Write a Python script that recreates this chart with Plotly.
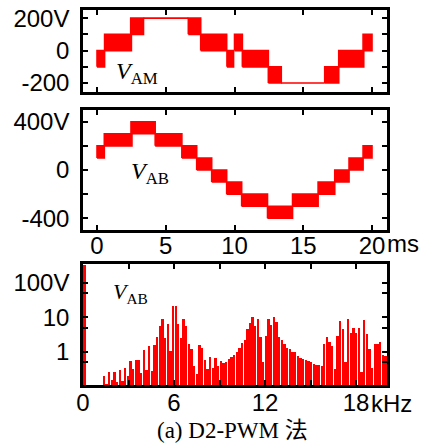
import plotly.graph_objects as go

W, H = 426, 445

# ---- v_AM : PWM blocks (start ms, end ms, low level V, high level V) ----
vam_t0 = [0.0, 0.55, 2.45, 3.38, 6.64, 7.54, 9.45, 10.0, 10.57, 12.46, 13.40, 16.56, 17.58, 19.35]
vam_t1 = [0.55, 2.50, 3.38, 6.64, 7.54, 9.43, 9.93, 10.57, 12.46, 13.40, 16.56, 17.58, 19.40, 20.0]
vam_lo = [-100, 0, 100, 200, 100, 0, -100, 0, -100, -200, -200, -200, -100, 0]
vam_hi = [0, 100, 200, 200, 200, 100, 0, 100, 0, -100, -200, -100, 0, 100]

# ---- v_AB : PWM blocks ----
vab_t0 = [0.0, 0.53, 2.47, 4.23, 6.17, 7.25, 8.34, 9.43, 10.52, 12.40, 14.22, 16.08, 17.29, 18.33, 19.35]
vab_t1 = [0.53, 2.54, 4.23, 6.17, 7.25, 8.34, 9.43, 10.52, 12.40, 14.22, 16.08, 17.29, 18.33, 19.35, 20.0]
vab_lo = [100, 200, 300, 200, 100, 0, -100, -200, -300, -400, -300, -200, -100, 0, 100]
vab_hi = [200, 300, 400, 300, 200, 100, 0, -100, -200, -300, -200, -100, 0, 100, 200]

# ---- v_AB spectrum ----
fund_khz = 0.11
fund_amp = 340.0
spec_f0 = 1.4        # first sideband bin, kHz
spec_step = 0.175    # bin spacing, kHz
spec_amp = [
    0.2, 0.12, 0.26, 0.15, 0.27, 0.13, 0.3, 0.14, 0.34, 0.2,
    0.55, 0.32, 0.6, 0.58, 0.25, 1.1, 0.3, 1.5, 0.28, 1.6,
    2.7, 5.6, 8.9, 2.5, 6.6, 1.05, 21.0, 21.0, 6.6, 2.5,
    8.9, 5.7, 1.7, 1.25, 0.39, 0.23, 1.6, 1.3, 0.6, 0.31,
    0.72, 0.34, 0.66, 0.39, 0.54, 0.47, 0.52, 0.61, 0.7, 0.82,
    1.0, 1.3, 1.8, 2.2, 4.5, 6.8, 10.5, 5.7, 8.9, 2.7,
    0.5, 2.9, 8.9, 6.1, 10.5, 7.2, 2.7, 2.2, 1.74, 1.3,
    1.2, 1.0, 0.98, 0.75, 0.67, 0.64, 0.57, 0.53, 0.5, 0.46,
    0.41, 0.41, 0.39, 1.74, 2.7, 2.0, 1.5, 0.31, 2.9, 7.8,
    4.5, 0.51, 8.9, 3.6, 5.0, 3.6, 5.0, 0.27, 8.3, 3.2,
    1.2, 0.34, 1.74, 1.74, 2.0, 0.84, 0.74,
]
spec_f = [spec_f0 + spec_step * k for k in range(len(spec_amp))]

# tick positions and labels
t_ticks = [0, 5, 10, 15, 20]
t_labels = ["0", "5", "10", "15", "20"]
vam_ticks = [-200, 0, 200]
vam_labels = ["-200", "0", "200V"]
vam_minor = [-100, 100]
vab_ticks = [-400, 0, 400]
vab_labels = ["-400", "0", "400V"]
vab_minor = [-200, 200]
f_ticks = [0, 6, 12, 18]
f_labels = ["0", "6", "12", "18"]
f_minor = [3, 9, 15]
amp_ticks = [1, 10, 100]
amp_labels = ["1", "10", "100V"]
amp_minor = [0.5, 5, 50]

RED = "#ff0000"
TICK_FONT = dict(family="Liberation Sans, Arial, sans-serif", size=24, color="black")


def px_x(x):
    return x / W


def px_y(y):
    return 1 - y / H


def block_path(t0, t1, lo, hi):
    xs, ys = [], []
    for a, b, l, h in zip(t0, t1, lo, hi):
        xs += [a, b, b, a, a, None]
        ys += [l, l, h, h, l, None]
    return xs, ys


fig = go.Figure()

xs, ys = block_path(vam_t0, vam_t1, vam_lo, vam_hi)
fig.add_trace(go.Scatter(x=xs, y=ys, mode="lines", fill="toself", fillcolor=RED,
                         line=dict(color=RED, width=1.6), xaxis="x", yaxis="y",
                         hoverinfo="skip", showlegend=False))

xs, ys = block_path(vab_t0, vab_t1, vab_lo, vab_hi)
fig.add_trace(go.Scatter(x=xs, y=ys, mode="lines", fill="toself", fillcolor=RED,
                         line=dict(color=RED, width=1.6), xaxis="x2", yaxis="y2",
                         hoverinfo="skip", showlegend=False))

fig.add_trace(go.Bar(x=[fund_khz] + spec_f, y=[fund_amp] + spec_amp, width=0.12,
                     marker=dict(color=RED, line=dict(width=0)),
                     xaxis="x3", yaxis="y3", showlegend=False))

XDOM = [px_x(83), px_x(387)]


def frame(minor_vals=None):
    d = dict(showline=True, linewidth=2.5, linecolor="black", mirror="ticks",
             ticks="inside", ticklen=5, tickwidth=1.5, tickcolor="black",
             showgrid=False, zeroline=False, tickfont=TICK_FONT, automargin=False)
    if minor_vals:
        d["minor"] = dict(tickvals=minor_vals, ticks="inside", ticklen=5,
                          tickwidth=1.5, tickcolor="black", showgrid=False)
    return d


fig.update_layout(
    width=W, height=H, margin=dict(l=0, r=0, t=0, b=0),
    paper_bgcolor="white", plot_bgcolor="white", bargap=0,
    xaxis=dict(domain=XDOM, anchor="y", range=[-1.02, 21.09],
               tickvals=t_ticks, showticklabels=False, **frame()),
    yaxis=dict(domain=[px_y(92), px_y(10)], anchor="x", range=[-255, 250],
               tickvals=vam_ticks, ticktext=vam_labels, ticklabelstandoff=6,
               **frame(vam_minor)),
    xaxis2=dict(domain=XDOM, anchor="y2", range=[-1.02, 21.09],
                tickvals=t_ticks, ticktext=t_labels, ticklabelstandoff=-8, **frame()),
    yaxis2=dict(domain=[px_y(230), px_y(110)], anchor="x2", range=[-497, 497],
                tickvals=vab_ticks, ticktext=vab_labels, ticklabelstandoff=6,
                **frame(vab_minor)),
    xaxis3=dict(domain=XDOM, anchor="y3", range=[0, 20.04],
                tickvals=f_ticks, ticktext=f_labels, ticklabelstandoff=-6,
                **frame(f_minor)),
    yaxis3=dict(domain=[px_y(385), px_y(264)], anchor="x3", type="log",
                range=[-0.96, 2.55], tickvals=amp_ticks, ticktext=amp_labels,
                ticklabelstandoff=6, **frame(amp_minor)),
)

SERIF = "Liberation Serif, Times New Roman, serif"
labels = [
    ("<i>V</i><sub>AM</sub>", 114, 73, 24),
    ("<i>V</i><sub>AB</sub>", 129, 173, 24),
    ("<i>V</i><sub>AB</sub>", 111, 293, 22),
]
for txt, x, y, s in labels:
    fig.add_annotation(text=txt, x=px_x(x), y=px_y(y), xref="paper", yref="paper",
                       xanchor="left", yanchor="middle", showarrow=False,
                       font=dict(family=SERIF, size=s, color="black"))

# unit suffixes following the last tick labels
fig.add_annotation(text="ms", x=px_x(385), y=px_y(243), xref="paper", yref="paper",
                   xanchor="left", yanchor="middle", showarrow=False, font=TICK_FONT)
fig.add_annotation(text="kHz", x=px_x(369), y=px_y(403), xref="paper", yref="paper",
                   xanchor="left", yanchor="middle", showarrow=False, font=TICK_FONT)

fig.add_annotation(text="(a) D2-PWM 法", x=px_x(232), y=px_y(430), xref="paper", yref="paper",
                   xanchor="center", yanchor="middle", showarrow=False,
                   font=dict(family="Liberation Serif, Noto Sans CJK SC, serif", size=23,
                             color="black"))

fig.write_html("out.html")
